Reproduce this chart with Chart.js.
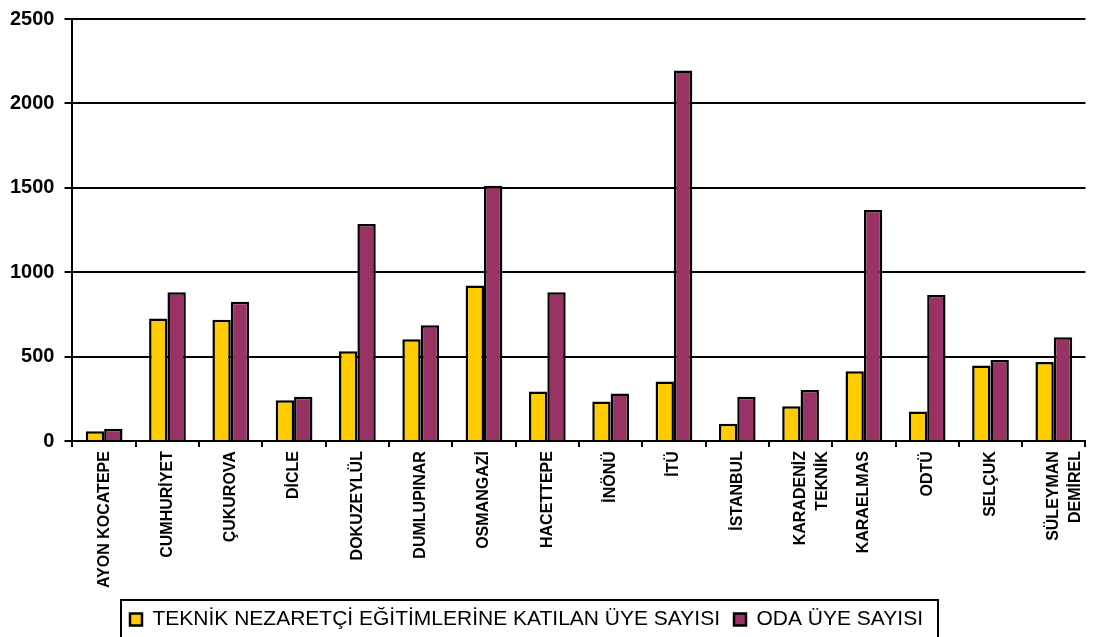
<!DOCTYPE html>
<html>
<head>
<meta charset="utf-8">
<script src="https://cdn.jsdelivr.net/npm/chart.js@4"></script>
<style>
  body { margin: 0; background: #fff; }
  #wrap { width: 1101px; height: 637px; }
</style>
</head>
<body>
<div id="wrap"><canvas id="chart"></canvas></div>
<script>
const universities = [
  "AYON KOCATEPE", "CUMHURİYET", "ÇUKUROVA", "DİCLE", "DOKUZEYLÜL",
  "DUMLUPINAR", "OSMANGAZİ", "HACETTEPE", "İNÖNÜ", "İTÜ", "İSTANBUL",
  ["KARADENİZ", "TEKNİK"], "KARAELMAS", "ODTÜ", "SELÇUK", ["SÜLEYMAN", "DEMİREL"]
];
const teknikNezaretci = [58, 726, 718, 242, 532, 603, 921, 294, 234, 353, 103, 206, 413, 175, 448, 468];
const odaUye = [73, 881, 825, 262, 1286, 686, 1512, 881, 282, 2195, 262, 302, 1369, 865, 480, 615];
const seriesNames = ["TEKNİK NEZARETÇİ EĞİTİMLERİNE KATILAN ÜYE SAYISI", "ODA ÜYE SAYISI"];
const yTicks = [0, 500, 1000, 1500, 2000, 2500];

const FONT = "Arial, 'Liberation Sans', sans-serif";

// legend sits a bit left of centre in the original and has a frame round it
const legendFrame = {
  id: "legendFrame",
  afterLayout(chart) {
    const lg = chart.legend;
    lg.left -= 24;
    lg.right -= 24;
    lg.top += 3;
    lg.bottom += 3;
  },
  afterDraw(chart) {
    const boxes = chart.legend.legendHitBoxes;
    if (!boxes || !boxes.length) return;
    const first = boxes[0];
    const last = boxes[boxes.length - 1];
    const x0 = first.left - 9;
    const ctx = chart.ctx;
    ctx.save();
    ctx.strokeStyle = "#000";
    ctx.lineWidth = 2;
    ctx.strokeRect(x0, first.top - 9, last.left + last.width + 15 - x0, 60);
    ctx.restore();
  }
};

new Chart(document.getElementById("chart"), {
  type: "bar",
  data: {
    labels: universities,
    datasets: [
      {
        label: seriesNames[0],
        data: teknikNezaretci,
        backgroundColor: "#FFCC00",
        borderColor: "#000",
        borderWidth: 2.5,
        categoryPercentage: 0.58,
        barPercentage: 1
      },
      {
        label: seriesNames[1],
        data: odaUye,
        backgroundColor: "#993366",
        borderColor: "#000",
        borderWidth: 2.5,
        categoryPercentage: 0.58,
        barPercentage: 1
      }
    ]
  },
  options: {
    responsive: true,
    maintainAspectRatio: false,
    animation: false,
    layout: { padding: { top: 0, left: 0, right: 0, bottom: 0 } },
    plugins: {
      tooltip: { enabled: false },
      legend: {
        position: "bottom",
        labels: {
          color: "#000",
          font: { family: FONT, size: 21 },
          boxWidth: 12,
          boxHeight: 12,
          padding: 14
        }
      }
    },
    scales: {
      x: {
        border: { color: "#000", width: 2 },
        grid: { drawOnChartArea: false, color: "#000", lineWidth: 2, tickLength: 6 },
        ticks: {
          color: "#000",
          font: { family: FONT, size: 16, weight: "bold", lineHeight: 1.35 },
          maxRotation: 90,
          minRotation: 90,
          autoSkip: false,
          padding: 4
        }
      },
      y: {
        min: 0,
        max: 2500,
        afterBuildTicks(axis) {
          axis.ticks = yTicks.map(v => ({ value: v }));
        },
        border: { color: "#000", width: 2 },
        grid: { color: "#000", lineWidth: 2, tickLength: 8 },
        ticks: {
          color: "#000",
          font: { family: FONT, size: 20, weight: "bold", lineHeight: 0.9 },
          padding: 10,
          callback: v => String(v)
        }
      }
    }
  },
  plugins: [legendFrame]
});
</script>
</body>
</html>
